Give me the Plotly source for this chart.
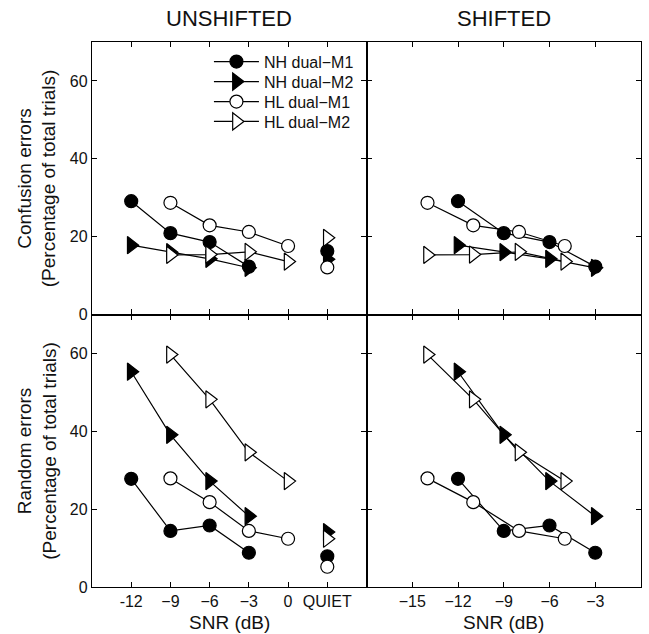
import plotly.graph_objects as go
from plotly.subplots import make_subplots

# ---- data ----
snr_nh = [-12, -9, -6, -3]
snr_hl_unshifted = [-9, -6, -3, 0]
snr_hl_shifted = [-14, -11, -8, -5]
quiet_x = 3  # position of the "QUIET" condition on the unshifted axis

conf_nh_m1 = [29.1, 20.9, 18.6, 12.3]
conf_nh_m2 = [17.8, 16.0, 14.3, 12.0]
conf_hl_m1 = [28.7, 22.9, 21.2, 17.6]
conf_hl_m2 = [15.3, 15.4, 16.1, 13.6]
conf_quiet = {"NH dual\u2212M1": 16.3, "NH dual\u2212M2": 14.2,
              "HL dual\u2212M1": 12.1, "HL dual\u2212M2": 19.7}

rand_nh_m1 = [27.8, 14.4, 15.8, 8.8]
rand_nh_m2 = [55.3, 39.1, 27.2, 18.2]
rand_hl_m1 = [27.9, 21.8, 14.4, 12.4]
rand_hl_m2 = [59.7, 48.2, 34.6, 27.2]
rand_quiet = {"NH dual\u2212M1": 7.9, "NH dual\u2212M2": 14.1,
              "HL dual\u2212M1": 5.2, "HL dual\u2212M2": 12.4}

left_tickvals = [-12, -9, -6, -3, 0, 3]
left_ticktext = ["-12", "\u22129", "\u22126", "\u22123", "0", "QUIET"]
right_tickvals = [-15, -12, -9, -6, -3]
right_ticktext = ["\u221215", "\u221212", "\u22129", "\u22126", "\u22123"]
y_tickvals = [0, 20, 40, 60]

FONT = "Liberation Sans, Arial, Helvetica, sans-serif"

styles = {
    "NH dual\u2212M1": dict(symbol="circle", color="black", size=13),
    "NH dual\u2212M2": dict(symbol="triangle-right", color="black", size=15),
    "HL dual\u2212M1": dict(symbol="circle", color="white", size=13),
    "HL dual\u2212M2": dict(symbol="triangle-right", color="white", size=15),
}
legend_ids = ["legend", "legend2", "legend3", "legend4"]

fig = make_subplots(rows=2, cols=2, horizontal_spacing=0, vertical_spacing=0)


def add_series(name, x, y, row, col, legend_id=None):
    s = styles[name]
    kw = dict(showlegend=legend_id is not None)
    if legend_id is not None:
        kw["legend"] = legend_id
    fig.add_trace(go.Scatter(
        x=x, y=y, mode="lines+markers", name=name,
        line=dict(color="black", width=1.2),
        marker=dict(symbol=s["symbol"], size=s["size"], color=s["color"],
                    line=dict(color="black", width=1.2)),
        **kw,
    ), row=row, col=col)


def add_quiet(name, yv, row, col):
    s = styles[name]
    fig.add_trace(go.Scatter(
        x=[quiet_x], y=[yv], mode="markers", name=name, showlegend=False,
        marker=dict(symbol=s["symbol"], size=s["size"], color=s["color"],
                    line=dict(color="black", width=1.2)),
    ), row=row, col=col)


names = list(styles.keys())
conf = [conf_nh_m1, conf_nh_m2, conf_hl_m1, conf_hl_m2]
rand = [rand_nh_m1, rand_nh_m2, rand_hl_m1, rand_hl_m2]

for i, nm in enumerate(names):
    hl = nm.startswith("HL")
    add_series(nm, snr_hl_unshifted if hl else snr_nh, conf[i], 1, 1, legend_ids[i])
    add_quiet(nm, conf_quiet[nm], 1, 1)
    add_series(nm, snr_hl_shifted if hl else snr_nh, conf[i], 1, 2)
    add_series(nm, snr_hl_unshifted if hl else snr_nh, rand[i], 2, 1)
    add_quiet(nm, rand_quiet[nm], 2, 1)
    add_series(nm, snr_hl_shifted if hl else snr_nh, rand[i], 2, 2)

axis_common = dict(showline=True, linecolor="black", linewidth=1.3, mirror="ticks",
                   ticks="inside", ticklen=5, tickwidth=1, tickcolor="black",
                   showgrid=False, zeroline=False,
                   tickfont=dict(family=FONT, size=16, color="#111"))

for r in (1, 2):
    fig.update_xaxes(range=[-15, 6], tickvals=left_tickvals, ticktext=left_ticktext,
                     showticklabels=(r == 2), row=r, col=1, **axis_common)
    fig.update_xaxes(range=[-18, 0], tickvals=right_tickvals, ticktext=right_ticktext,
                     showticklabels=(r == 2), row=r, col=2, **axis_common)
    for c in (1, 2):
        fig.update_yaxes(range=[0, 70], tickvals=y_tickvals,
                         showticklabels=(c == 1), row=r, col=c, **axis_common)

ann = []
ann.append(dict(text="UNSHIFTED", x=0.25, y=1, xref="paper", yref="paper",
                xanchor="center", yanchor="middle", yshift=24, showarrow=False,
                font=dict(family=FONT, size=22, color="#111")))
ann.append(dict(text="SHIFTED", x=0.75, y=1, xref="paper", yref="paper",
                xanchor="center", yanchor="middle", yshift=24, showarrow=False,
                font=dict(family=FONT, size=22, color="#111")))
for xc in (0.25, 0.75):
    ann.append(dict(text="SNR (dB)", x=xc, y=0, xref="paper", yref="paper",
                    xanchor="center", yanchor="middle", yshift=-35, showarrow=False,
                    font=dict(family=FONT, size=19, color="#111")))
ann.append(dict(text="Confusion errors<br>(Percentage of total trials)", x=0, y=0.75,
                xref="paper", yref="paper", xanchor="center", yanchor="middle",
                xshift=-55, textangle=-90, showarrow=False,
                font=dict(family=FONT, size=19, color="#111")))
ann.append(dict(text="Random errors<br>(Percentage of total trials)", x=0, y=0.25,
                xref="paper", yref="paper", xanchor="center", yanchor="middle",
                xshift=-55, textangle=-90, showarrow=False,
                font=dict(family=FONT, size=19, color="#111")))

layout_kw = {}
plot_top, plot_h = 42, 545
row_centers = [61.7, 81.7, 101.7, 121.5]  # pixel rows of the legend entries
for lid, yc in zip(legend_ids, row_centers):
    layout_kw[lid] = dict(x=0.213, y=1 - (yc - plot_top) / plot_h,
                          xanchor="left", yanchor="middle",
                          bgcolor="rgba(0,0,0,0)", borderwidth=0,
                          font=dict(family=FONT, size=16, color="#111"),
                          itemwidth=45)

fig.update_layout(
    width=649, height=634,
    margin=dict(l=92, r=8, t=42, b=47),
    paper_bgcolor="white", plot_bgcolor="white",
    font=dict(family=FONT, color="#111"),
    annotations=ann,
    **layout_kw,
)

# remove the browser's default 8 px page margin so the figure fills the window
fig.write_html("out.html", config={"displayModeBar": False},
               post_script="document.body.style.margin='0';")
